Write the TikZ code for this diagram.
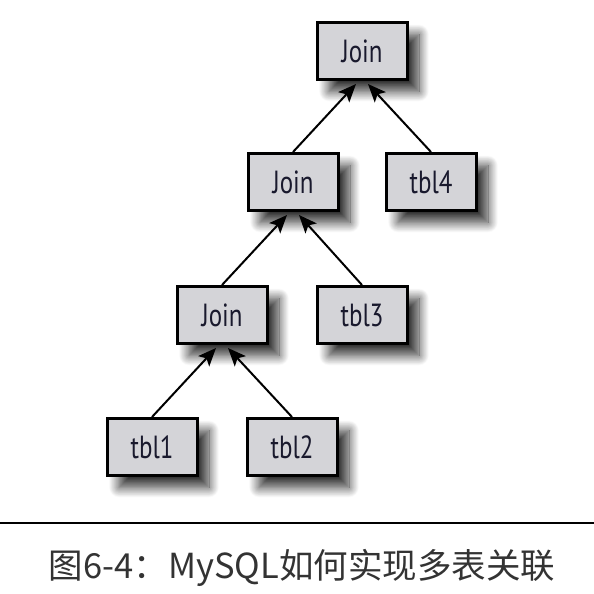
\documentclass[tikz,border=0pt]{standalone}
\usepackage{fontspec}
\usetikzlibrary{arrows.meta,shadows.blur,calc}
\newfontfamily\boxfont[FakeStretch=0.78]{PT Sans}
\newfontfamily\cjk{Noto Sans CJK SC}
\definecolor{boxgray}{RGB}{212,212,216}
\definecolor{txtcol}{RGB}{25,25,45}
\tikzset{
  tbox/.style={draw=black, line width=3pt, fill=boxgray, minimum width=90pt, minimum height=57pt,
    inner sep=0pt, text=txtcol, font=\boxfont\fontsize{32}{32}\selectfont,
    blur shadow={shadow xshift=12pt, shadow yshift=-12pt, shadow blur steps=16, shadow blur radius=10pt, shadow opacity=80}},
  link/.style={line width=2pt, -{Stealth[length=18pt,width=15pt,inset=4pt]}}
}
\begin{document}
\begin{tikzpicture}[x=1pt,y=-1pt]
\useasboundingbox (0,0) rectangle (594,594);
\node[tbox] (j1) at (362,51) {Join};
\node[tbox] (j2) at (293,182) {Join};
\node[tbox] (t4) at (431,182) {tbl4};
\node[tbox] (j3) at (222,315) {Join};
\node[tbox] (t3) at (362,315) {tbl3};
\node[tbox] (t1) at (152,447) {tbl1};
\node[tbox] (t2) at (292,447) {tbl2};
\draw[link] (j2.north) -- ($(j1.south)+(-6,3)$);
\draw[link] (t4.north) -- ($(j1.south)+(6,3)$);
\draw[link] (j3.north) -- ($(j2.south)+(-6,3)$);
\draw[link] (t3.north) -- ($(j2.south)+(6,3)$);
\draw[link] (t1.north) -- ($(j3.south)+(-6,3)$);
\draw[link] (t2.north) -- ($(j3.south)+(6,3)$);
\coordinate (rl) at (0,523);
\coordinate (rr) at (594,523);
\draw[line width=1.3pt] (rl) -- (rr);
\node[font=\cjk\fontsize{34.5}{34.5}\selectfont, text=black!80] (cap) at (302,568) {图6-4：MySQL如何实现多表关联};
\end{tikzpicture}
\end{document}
